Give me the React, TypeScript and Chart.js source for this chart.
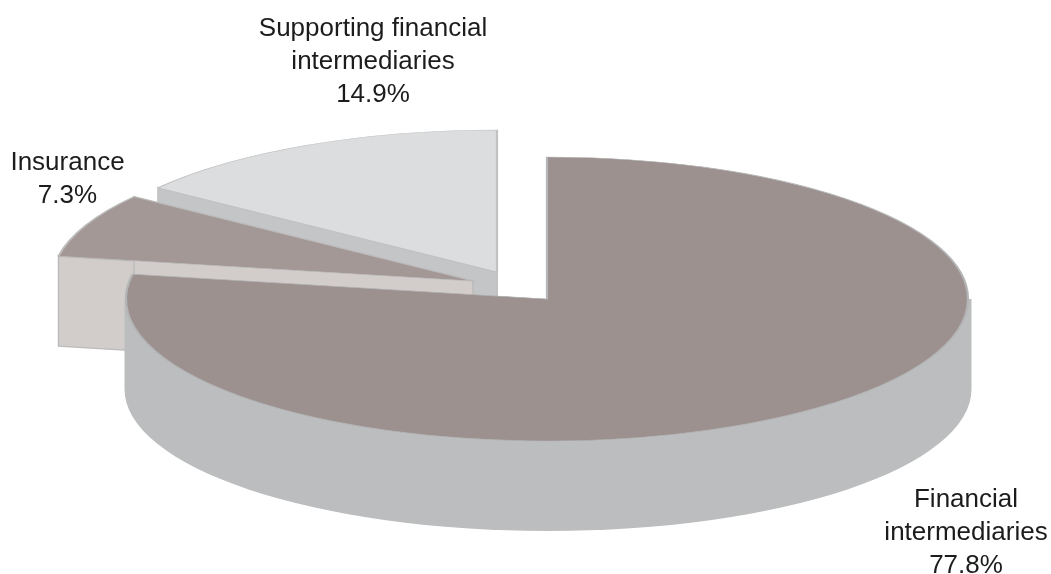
import React, { useEffect, useRef } from "react";
import { Chart, ArcElement, PieController } from "chart.js";

Chart.register(ArcElement, PieController);

const categories = ["Financial intermediaries", "Insurance", "Supporting financial intermediaries"];
const shares = [77.8, 7.3, 14.9];
const labelLines = [["Financial", "intermediaries"], ["Insurance"], ["Supporting financial", "intermediaries"]];

const topColors = ["#9c918f", "#a39896", "#dcdddf"];
const wallColors = ["#bbbdbe", "#d2cdcb", "#c3c5c7"];
const edgeColors = ["#b4b5b6", "#bcbcbc", "#c0c1c2"];

// Projection of the flat pie onto the tilted plane, in canvas pixels.
const CANVAS_W = 1051;
const CANVAS_H = 574;
const PIE_X = 547;
const PIE_Y = 299;
const RADIUS_X = 421;
const RADIUS_Y = 142;
const DEPTH = 90;
const sliceShift = [
  [0, 0],
  [-74, -18],
  [-50, -27],
];
const paintOrder = [2, 1, 0];
const labelAnchors = [
  { x: 966, y: 506.5 },
  { x: 67.5, y: 169.5 },
  { x: 373, y: 35.5 },
];
const LABEL_FONT = '26px "Liberation Sans", Arial, sans-serif';
const LABEL_LEADING = 33;

const extrudedPie = {
  id: "extrudedPie",
  beforeDatasetDraw(chart: any) {
    const ctx = chart.ctx;
    const arcs = chart.getDatasetMeta(0).data;
    for (const i of paintOrder) {
      const arc = arcs[i];
      const { x, y, startAngle, endAngle, outerRadius } = arc.getProps(
        ["x", "y", "startAngle", "endAngle", "outerRadius"],
        true
      );
      const cx = PIE_X + sliceShift[i][0];
      const cy = PIE_Y + sliceShift[i][1];

      // Side walls: the two cut faces, then the outer rim on the near half.
      ctx.save();
      ctx.fillStyle = wallColors[i];
      ctx.strokeStyle = edgeColors[i];
      ctx.lineWidth = 1.5;
      for (const a of [startAngle, endAngle]) {
        const px = cx + RADIUS_X * Math.cos(a);
        const py = cy + RADIUS_Y * Math.sin(a);
        ctx.beginPath();
        ctx.moveTo(cx, cy);
        ctx.lineTo(px, py);
        ctx.lineTo(px, py + DEPTH);
        ctx.lineTo(cx, cy + DEPTH);
        ctx.closePath();
        ctx.fill();
        if (i !== 0) ctx.stroke();
      }
      const from = Math.max(startAngle, 0);
      const to = Math.min(endAngle, Math.PI);
      if (to > from) {
        const rimX = RADIUS_X + 2.5;
        ctx.beginPath();
        ctx.ellipse(cx + 1, cy + DEPTH, rimX, RADIUS_Y, 0, from, to);
        ctx.lineTo(cx + 1 + rimX * Math.cos(to), cy + RADIUS_Y * Math.sin(to));
        ctx.lineTo(cx + 1 + rimX * Math.cos(from), cy + RADIUS_Y * Math.sin(from));
        ctx.closePath();
        ctx.fill();
      }
      ctx.restore();

      // Top face: the library's own arc, squashed into the projection.
      ctx.save();
      ctx.translate(cx, cy);
      ctx.scale(RADIUS_X / outerRadius, RADIUS_Y / outerRadius);
      ctx.translate(-x, -y);
      arc.draw(ctx);
      ctx.restore();
    }
    return false;
  },
  afterDraw(chart: any) {
    const ctx = chart.ctx;
    ctx.save();
    ctx.font = LABEL_FONT;
    ctx.fillStyle = "#1c1c1c";
    ctx.textAlign = "center";
    ctx.textBaseline = "alphabetic";
    labelLines.forEach((lines, i) => {
      const rows = [...lines, `${shares[i]}%`];
      rows.forEach((row, r) => {
        ctx.fillText(row, labelAnchors[i].x, labelAnchors[i].y + r * LABEL_LEADING);
      });
    });
    ctx.restore();
  },
};

export default function App() {
  const canvasRef = useRef<HTMLCanvasElement>(null);

  useEffect(() => {
    document.body.style.margin = "0";
    document.body.style.background = "#ffffff";
    const chart = new Chart(canvasRef.current!, {
      type: "pie",
      data: {
        labels: categories,
        datasets: [
          {
            data: shares,
            backgroundColor: topColors,
            borderColor: edgeColors,
            borderWidth: 1.5,
            borderJoinStyle: "miter",
          } as any,
        ],
      },
      options: {
        responsive: false,
        animation: false,
        plugins: { legend: { display: false }, tooltip: { enabled: false } },
      },
      plugins: [extrudedPie],
    });
    return () => chart.destroy();
  }, []);

  return (
    <canvas
      ref={canvasRef}
      width={CANVAS_W}
      height={CANVAS_H}
      style={{ display: "block", width: CANVAS_W, height: CANVAS_H }}
    />
  );
}
